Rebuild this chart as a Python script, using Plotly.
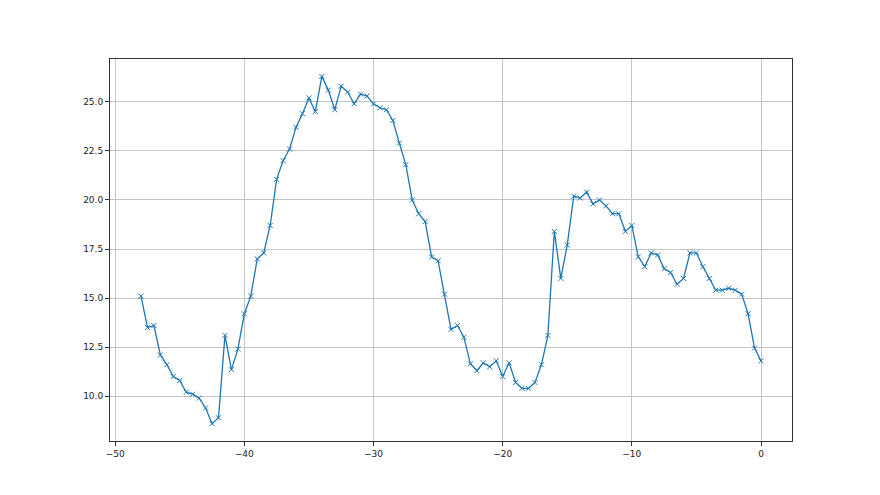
import numpy as np
import plotly.graph_objects as go

x_values = [-48 + 0.5 * i for i in range(97)]
y_values = [
    15.1, 13.5, 13.6, 12.1, 11.6, 11.0, 10.8, 10.2, 10.1, 9.9, 9.4, 8.6, 8.9,
    13.1, 11.35, 12.4, 14.2, 15.1, 17.0, 17.3, 18.7, 21.05, 22.0, 22.6, 23.7,
    24.4, 25.2, 24.5, 26.3, 25.6, 24.6, 25.8, 25.5, 24.9, 25.4, 25.3, 24.9,
    24.7, 24.6, 24.05, 22.9, 21.8, 20.0, 19.3, 18.9, 17.1, 16.9, 15.2, 13.4,
    13.6, 13.0, 11.65, 11.3, 11.7, 11.5, 11.8, 11.0, 11.7, 10.7, 10.4, 10.4,
    10.7, 11.6, 13.1, 18.4, 16.0, 17.7, 20.2, 20.1, 20.4, 19.8, 20.0, 19.7,
    19.3, 19.3, 18.4, 18.7, 17.1, 16.6, 17.3, 17.2, 16.5, 16.3, 15.7, 16.0,
    17.3, 17.3, 16.6, 16.0, 15.4, 15.4, 15.5, 15.4, 15.2, 14.2, 12.45, 11.8,
]
x_ticks = [-50, -40, -30, -20, -10, 0]
y_ticks = [10.0, 12.5, 15.0, 17.5, 20.0, 22.5, 25.0]

fig = go.Figure()
fig.add_trace(go.Scatter(
    x=x_values, y=y_values, mode="lines+markers",
    line=dict(color="#1f77b4", width=1.3),
    marker=dict(symbol="x-thin-open", size=5, color="#1f77b4",
                line=dict(color="#1f77b4", width=1)),
    showlegend=False,
))

xmin, xmax = min(x_values), max(x_values)
ymin, ymax = min(y_values), max(y_values)
xpad = (xmax - xmin) * 0.05
ypad = (ymax - ymin) * 0.05

axis_common = dict(
    showline=True, linecolor="#333333", linewidth=1, mirror=True,
    ticks="outside", ticklen=4, tickwidth=1, tickcolor="#333333",
    showgrid=True, gridcolor="#c4c4c4", gridwidth=1,
    zeroline=False,
    tickfont=dict(family="DejaVu Sans", size=9, color="#222222"),
)

fig.update_layout(
    width=880, height=495,
    margin=dict(l=102, r=96, t=51, b=62),
    paper_bgcolor="white", plot_bgcolor="white",
    xaxis=dict(range=[xmin - xpad, xmax + xpad], tickvals=x_ticks, **axis_common),
    yaxis=dict(range=[ymin - ypad, ymax + ypad], tickvals=y_ticks,
               tickformat=".1f", **axis_common),
)

fig.write_html("out.html")
